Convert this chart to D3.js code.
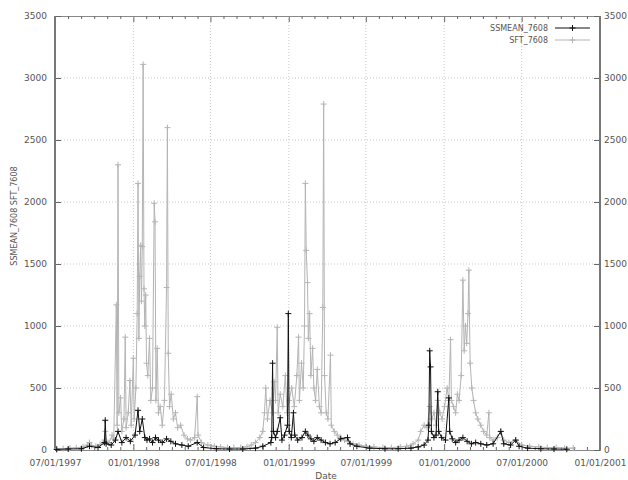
<!DOCTYPE html>
<html>
<head>
<meta charset="utf-8">
<script src="https://d3js.org/d3.v7.min.js"></script>
<style>
  body { margin: 0; background: #fff; }
  svg text { font-family: "DejaVu Sans", sans-serif; font-size: 9px; fill: #555; }
</style>
</head>
<body>
<svg id="chart" width="628" height="480"></svg>
<script>
// x tick positions and labels
var xTickDates = ["1997-07-01", "1998-01-01", "1998-07-01", "1999-01-01", "1999-07-01", "2000-01-01", "2000-07-01", "2001-01-01"];
var xTickLabels = ["07/01/1997", "01/01/1998", "07/01/1998", "01/01/1999", "07/01/1999", "01/01/2000", "07/01/2000", "01/01/2001"];
var yTicks = [0, 500, 1000, 1500, 2000, 2500, 3000, 3500];

var seriesNames = ["SSMEAN_7608", "SFT_7608"];

// SSMEAN_7608 (black)
var ssDates = ["1997-07-05","1997-08-01","1997-09-01","1997-09-20","1997-10-10","1997-10-25","1997-10-27","1997-10-29","1997-11-10","1997-11-20",
  "1997-11-26","1997-12-05","1997-12-15","1997-12-25","1998-01-05","1998-01-12","1998-01-16","1998-01-22","1998-01-28","1998-02-02",
  "1998-02-08","1998-02-15","1998-02-22","1998-03-01","1998-03-10","1998-03-20","1998-03-30","1998-04-10","1998-04-25","1998-05-10",
  "1998-05-31","1998-06-15","1998-07-15","1998-08-15","1998-09-15","1998-10-15","1998-11-01","1998-11-20","1998-11-22","1998-11-24",
  "1998-11-26","1998-12-01","1998-12-05","1998-12-12","1998-12-16","1998-12-22","1998-12-29","1998-12-31","1999-01-02","1999-01-07",
  "1999-01-12","1999-01-15","1999-01-22","1999-02-01","1999-02-09","1999-02-15","1999-02-22","1999-03-01","1999-03-09","1999-03-18",
  "1999-03-28","1999-04-08","1999-04-20","1999-05-03","1999-05-19","1999-05-25","1999-06-10","1999-07-10","1999-08-15","1999-09-15",
  "1999-10-15","1999-11-01","1999-11-15","1999-11-24","1999-11-26","1999-11-28","1999-11-30","1999-12-02","1999-12-08","1999-12-13",
  "1999-12-17","1999-12-19","1999-12-26","2000-01-04","2000-01-12","2000-01-14","2000-01-20","2000-01-28","2000-02-05","2000-02-14",
  "2000-02-24","2000-03-05","2000-03-15","2000-03-27","2000-04-10","2000-04-25","2000-05-13","2000-05-20","2000-06-05","2000-06-17",
  "2000-06-25","2000-07-15","2000-08-15","2000-09-15","2000-10-15"];
var ssValues = [5, 8, 10, 30, 20, 60, 240, 50, 40, 80,
  150, 60, 100, 70, 120, 320, 150, 250, 100, 80,
  90, 60, 100, 80, 60, 90, 70, 50, 40, 30,
  60, 20, 10, 8, 8, 15, 30, 60, 100, 700,
  150, 100, 150, 260, 80, 120, 200, 1100, 150, 100,
  300, 120, 80, 100, 150, 120, 90, 70, 100, 80,
  60, 50, 60, 90, 100, 50, 30, 15, 10, 10,
  15, 25, 40, 80, 200, 800, 670, 150, 100, 120,
  470, 150, 100, 80, 420, 150, 90, 60, 80, 100,
  70, 50, 60, 50, 40, 50, 150, 50, 40, 80,
  30, 15, 10, 8, 6];

// SFT_7608 (grey)
var sfDates = ["1997-07-05","1997-07-20","1997-08-05","1997-08-20","1997-09-05","1997-09-15","1997-09-20","1997-09-25","1997-10-05","1997-10-15",
  "1997-10-25","1997-10-27","1997-10-29","1997-11-05","1997-11-12","1997-11-16","1997-11-22","1997-11-24","1997-11-26","1997-11-28",
  "1997-12-02","1997-12-05","1997-12-10","1997-12-13","1997-12-15","1997-12-20","1997-12-24","1997-12-27","1998-01-01","1998-01-03",
  "1998-01-07","1998-01-10","1998-01-12","1998-01-14","1998-01-16","1998-01-18","1998-01-20","1998-01-22","1998-01-24","1998-01-26",
  "1998-01-28","1998-01-30","1998-02-01","1998-02-04","1998-02-08","1998-02-11","1998-02-15","1998-02-19","1998-02-21","1998-02-23",
  "1998-02-26","1998-03-01","1998-03-05","1998-03-10","1998-03-15","1998-03-20","1998-03-22","1998-03-24","1998-03-27","1998-03-31",
  "1998-04-05","1998-04-10","1998-04-15","1998-04-22","1998-04-30","1998-05-08","1998-05-15","1998-05-25","1998-05-31","1998-06-02",
  "1998-06-10","1998-06-25","1998-07-10","1998-07-25","1998-08-10","1998-08-25","1998-09-10","1998-09-25","1998-10-05","1998-10-15",
  "1998-10-25","1998-11-01","1998-11-05","1998-11-08","1998-11-12","1998-11-18","1998-11-24","1998-11-28","1998-12-01","1998-12-05",
  "1998-12-07","1998-12-12","1998-12-18","1998-12-24","1998-12-28","1999-01-02","1999-01-08","1999-01-14","1999-01-20","1999-01-24",
  "1999-01-26","1999-01-31","1999-02-04","1999-02-07","1999-02-09","1999-02-11","1999-02-14","1999-02-16","1999-02-19","1999-02-22",
  "1999-02-26","1999-03-01","1999-03-05","1999-03-09","1999-03-14","1999-03-18","1999-03-22","1999-03-24","1999-03-26","1999-03-30",
  "1999-04-03","1999-04-09","1999-04-11","1999-04-18","1999-04-25","1999-05-03","1999-05-12","1999-05-20","1999-06-01","1999-06-15",
  "1999-07-01","1999-07-20","1999-08-10","1999-08-30","1999-09-20","1999-10-05","1999-10-20","1999-11-01","1999-11-07","1999-11-15",
  "1999-11-22","1999-11-28","1999-12-03","1999-12-08","1999-12-13","1999-12-17","1999-12-22","1999-12-27","2000-01-02","2000-01-08",
  "2000-01-12","2000-01-16","2000-01-18","2000-01-23","2000-01-28","2000-02-01","2000-02-05","2000-02-10","2000-02-14","2000-02-17",
  "2000-02-20","2000-02-23","2000-02-26","2000-02-28","2000-03-02","2000-03-06","2000-03-10","2000-03-15","2000-03-20","2000-03-27",
  "2000-04-03","2000-04-10","2000-04-15","2000-04-17","2000-04-25","2000-05-05","2000-05-13","2000-05-20","2000-06-01","2000-06-17",
  "2000-07-01","2000-07-20","2000-08-10","2000-08-30","2000-09-20","2000-10-10","2000-10-30"];
var sfValues = [10, 12, 15, 18, 25, 40, 60, 35, 30, 45,
  80, 150, 70, 60, 120, 90, 1170, 200, 2300, 300,
  420, 150, 250, 910, 180, 300, 560, 200, 740, 250,
  500, 1100, 2150, 900, 1400, 1650, 1200, 1640, 3110, 1300,
  1000, 1250, 700, 600, 900, 400, 500, 1990, 1840, 400,
  820, 300, 350, 200, 400, 1310, 2600, 780, 350, 450,
  250, 300, 180, 200, 120, 90, 80, 100, 430, 120,
  60, 40, 30, 25, 20, 20, 20, 25, 40, 60,
  100, 150, 300, 500, 250, 400, 300, 550, 400, 990,
  300, 450, 350, 600, 300, 400, 500, 350, 600, 910,
  400, 700, 500, 1000, 2150, 1610, 1350, 900, 1100, 600,
  820, 500, 400, 650, 350, 300, 1150, 2790, 600, 300,
  250, 765, 200, 150, 120, 100, 80, 70, 50, 40,
  30, 25, 20, 20, 25, 30, 50, 80, 150, 200,
  180, 350, 250, 300, 200, 400, 300, 250, 350, 500,
  400, 890, 400, 350, 300, 450, 400, 600, 1370, 800,
  1000, 860, 1100, 1450, 700, 500, 400, 300, 250, 200,
  150, 120, 300, 100, 80, 100, 150, 80, 60, 80,
  40, 30, 25, 20, 20, 15, 15];

var parse = d3.timeParse("%Y-%m-%d");
var svg = d3.select("#chart");
var margin = {top: 16, right: 28, bottom: 30, left: 55};
var width = 628 - margin.left - margin.right,
    height = 480 - margin.top - margin.bottom;

var x = d3.scaleTime()
    .domain([parse(xTickDates[0]), parse(xTickDates[xTickDates.length - 1])])
    .range([0, width]);
var y = d3.scaleLinear().domain([0, 3500]).range([height, 0]);

var g = svg.append("g").attr("transform", "translate(" + margin.left + "," + margin.top + ")");

// grid
g.selectAll(".hgrid").data(yTicks.slice(1, -1)).enter().append("line")
    .attr("x1", 0).attr("x2", width)
    .attr("y1", function(d) { return y(d); }).attr("y2", function(d) { return y(d); })
    .attr("stroke", "#c8c8c8").attr("stroke-dasharray", "1,2");
g.selectAll(".vgrid").data(xTickDates.slice(1, -1)).enter().append("line")
    .attr("x1", function(d) { return x(parse(d)); }).attr("x2", function(d) { return x(parse(d)); })
    .attr("y1", 0).attr("y2", height)
    .attr("stroke", "#c8c8c8").attr("stroke-dasharray", "1,2");

// axes
var xTicks = xTickDates.map(parse);
var minorTicks = [];
for (var i = 0; i < xTicks.length - 1; i++) {
    var step = (xTicks[i + 1] - xTicks[i]) / 6;
    for (var k = 1; k < 6; k++) minorTicks.push(new Date(+xTicks[i] + k * step));
}
var fmt = function(d, i) { return xTickLabels[i]; };
g.append("g").attr("transform", "translate(0," + height + ")")
    .call(d3.axisBottom(x).tickValues(xTicks).tickFormat(fmt).tickSizeInner(-6).tickSizeOuter(0).tickPadding(10));
g.append("g").attr("transform", "translate(0," + height + ")")
    .call(d3.axisBottom(x).tickValues(minorTicks).tickFormat("").tickSizeInner(-3).tickSizeOuter(0));
g.append("g")
    .call(d3.axisTop(x).tickValues(xTicks).tickFormat("").tickSizeInner(-6).tickSizeOuter(0));
g.append("g")
    .call(d3.axisTop(x).tickValues(minorTicks).tickFormat("").tickSizeInner(-3).tickSizeOuter(0));
g.append("g")
    .call(d3.axisLeft(y).tickValues(yTicks).tickFormat(d3.format("d")).tickSizeInner(-6).tickSizeOuter(0).tickPadding(8));
g.append("g").attr("transform", "translate(" + width + ",0)")
    .call(d3.axisRight(y).tickValues(yTicks).tickFormat(d3.format("d")).tickSizeInner(-6).tickSizeOuter(0).tickPadding(4));
g.selectAll(".domain").attr("stroke", "#888");
g.selectAll(".tick line").attr("stroke", "#666");
g.selectAll(".tick text").attr("fill", "#555").style("font-size", "9px");

// left/right axis lines are heavier
g.append("line").attr("x1", 0).attr("x2", 0).attr("y1", 0).attr("y2", height).attr("stroke", "#777").attr("stroke-width", 2);
g.append("line").attr("x1", width).attr("x2", width).attr("y1", 0).attr("y2", height).attr("stroke", "#777").attr("stroke-width", 2);

// series
var ssData = ssDates.map(function(d, i) { return {date: parse(d), value: ssValues[i]}; });
var sfData = sfDates.map(function(d, i) { return {date: parse(d), value: sfValues[i]}; });
var line = d3.line().x(function(d) { return x(d.date); }).y(function(d) { return y(d.value); });
var plus = "M-3,0H3M0,-3V3";

function drawSeries(data, color) {
    var s = g.append("g");
    s.append("path").datum(data).attr("d", line)
        .attr("fill", "none").attr("stroke", color).attr("stroke-width", 1);
    s.selectAll(".pt").data(data).enter().append("path")
        .attr("d", plus)
        .attr("transform", function(d) { return "translate(" + x(d.date) + "," + y(d.value) + ")"; })
        .attr("stroke", color).attr("stroke-width", 1);
}
drawSeries(sfData, "#b4b4b4");
drawSeries(ssData, "#111111");

// legend
var legend = [{name: seriesNames[0], color: "#111111"}, {name: seriesNames[1], color: "#b4b4b4"}];
var lg = svg.append("g").selectAll("g").data(legend).enter().append("g")
    .attr("transform", function(d, i) { return "translate(548," + (28 + i * 12) + ")"; });
lg.append("text").attr("text-anchor", "end").attr("dy", "0.35em").text(function(d) { return d.name; })
    .style("font-size", "8px").attr("fill", "#333");
lg.append("line").attr("x1", 7).attr("x2", 42).attr("stroke", function(d) { return d.color; });
lg.append("path").attr("d", plus).attr("transform", "translate(24.5,0)").attr("stroke", function(d) { return d.color; });

// axis titles
svg.append("text").attr("x", 326).attr("y", 479).attr("text-anchor", "middle").text("Date");
svg.append("text").attr("transform", "translate(17,216) rotate(-90)").attr("text-anchor", "middle")
    .style("font-size", "8px").text("SSMEAN_7608 SFT_7608");
</script>
</body>
</html>
